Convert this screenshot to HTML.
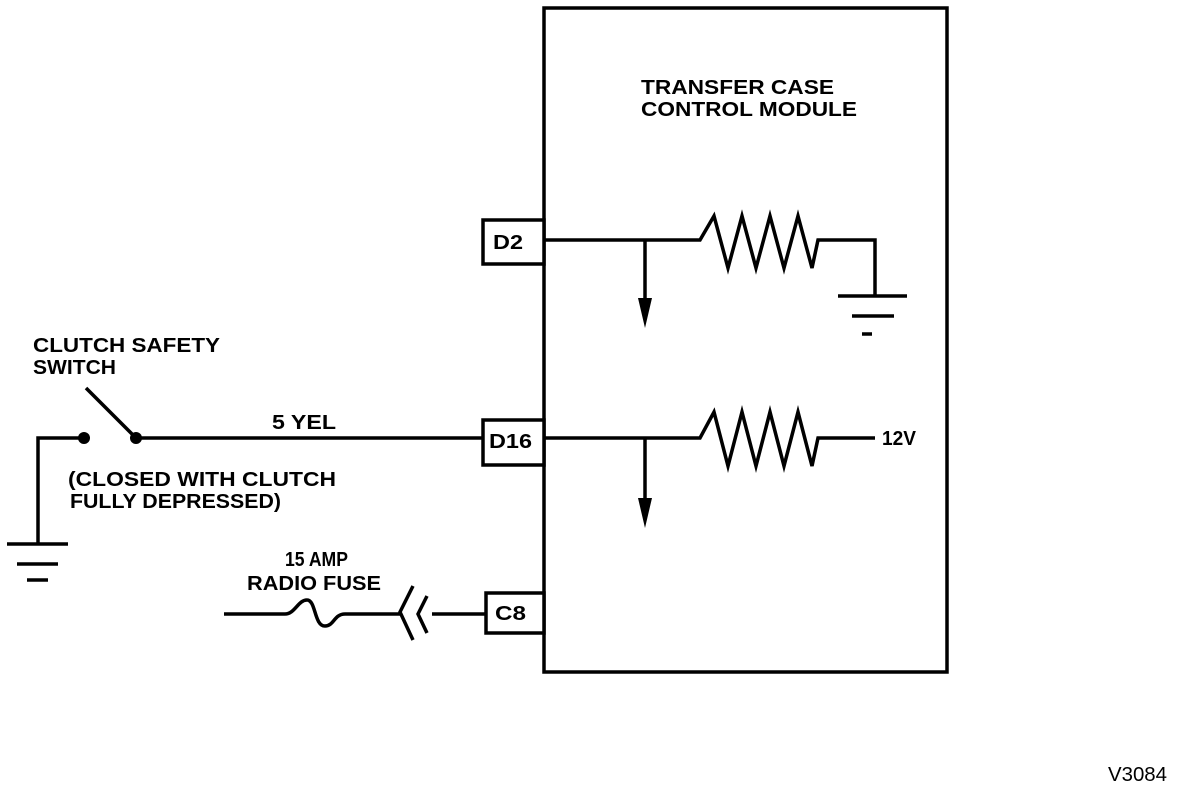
<!DOCTYPE html>
<html><head><style>body{margin:0;background:#fff}svg{display:block}text{font-family:"Liberation Sans",sans-serif;font-weight:bold;font-size:20px;fill:#000}text.n{font-weight:normal}</style></head>
<body>
<svg width="1184" height="786" viewBox="0 0 1184 786" xmlns="http://www.w3.org/2000/svg">
<g fill="none" stroke="#000" stroke-width="3.5">
<rect x="544" y="8" width="403" height="664"/>
<rect x="483" y="220" width="61" height="44" fill="#fff"/>
<rect x="483" y="420" width="61" height="45" fill="#fff"/>
<rect x="486" y="593" width="58" height="40" fill="#fff"/>
<polyline points="544,240 700,240 714,216 728,268 742,216 756,268 770,216 784,268 798,216 812,268 818,240 875,240 875,296"/>
<line x1="838" y1="296" x2="907" y2="296"/>
<line x1="852" y1="316" x2="894" y2="316"/>
<line x1="862" y1="334" x2="872" y2="334"/>
<line x1="645" y1="240" x2="645" y2="300"/>
<polyline points="544,438 700,438 714,412 728,466 742,412 756,466 770,412 784,466 798,412 812,466 818,438 875,438"/>
<line x1="645" y1="438" x2="645" y2="500"/>
<polyline points="38,544 38,438 84,438"/>
<line x1="7" y1="544" x2="68" y2="544"/>
<line x1="17" y1="564" x2="58" y2="564"/>
<line x1="27" y1="580" x2="48" y2="580"/>
<line x1="136" y1="438" x2="483" y2="438"/>
<line x1="136" y1="438" x2="86" y2="388"/>
<path d="M224,614 L285,614 C295,614 298,600 307,600 C316,600 314,626 325,626 C334,626 334,614 345,614 L400,614"/>
<polyline points="413,586 400,612 413,640"/>
<polyline points="427,596 418,614 427,633"/>
<line x1="432" y1="614" x2="486" y2="614"/>
</g>
<circle cx="84" cy="438" r="6"/>
<circle cx="136" cy="438" r="6"/>
<polygon points="638,298 652,298 645,328"/>
<polygon points="638,498 652,498 645,528"/>
<text x="641" y="94" textLength="193" lengthAdjust="spacingAndGlyphs">TRANSFER CASE</text>
<text x="641" y="116" textLength="216" lengthAdjust="spacingAndGlyphs">CONTROL MODULE</text>
<text x="493" y="249" font-size="17" textLength="30" lengthAdjust="spacingAndGlyphs">D2</text>
<text x="489" y="448" font-size="17" textLength="43" lengthAdjust="spacingAndGlyphs">D16</text>
<text x="495" y="620" font-size="17" textLength="31" lengthAdjust="spacingAndGlyphs">C8</text>
<text x="882" y="445" font-size="17" textLength="34" lengthAdjust="spacingAndGlyphs">12V</text>
<text x="33" y="352" textLength="187" lengthAdjust="spacingAndGlyphs">CLUTCH SAFETY</text>
<text x="33" y="374" textLength="83" lengthAdjust="spacingAndGlyphs">SWITCH</text>
<text x="272" y="429" textLength="64" lengthAdjust="spacingAndGlyphs">5 YEL</text>
<text x="68" y="486" textLength="268" lengthAdjust="spacingAndGlyphs">(CLOSED WITH CLUTCH</text>
<text x="70" y="508" textLength="211" lengthAdjust="spacingAndGlyphs">FULLY DEPRESSED)</text>
<text x="285" y="566" textLength="63" lengthAdjust="spacingAndGlyphs">15 AMP</text>
<text x="247" y="590" textLength="134" lengthAdjust="spacingAndGlyphs">RADIO FUSE</text>
<text class="n" x="1108" y="781" font-size="19" textLength="59" lengthAdjust="spacingAndGlyphs">V3084</text>
</svg>
</body></html>
